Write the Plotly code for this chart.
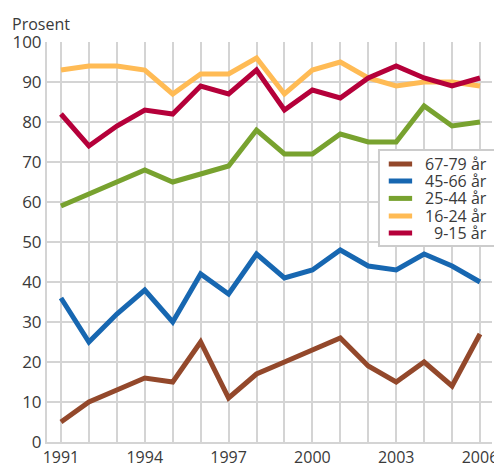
import plotly.graph_objects as go

years = list(range(1991, 2007))
labels = ["67-79 år", "45-66 år", "25-44 år", "16-24 år", "9-15 år"]
s_67_79 = [5, 10, 13, 16, 15, 25, 11, 17, 20, 23, 26, 19, 15, 20, 14, 27]
s_45_66 = [36, 25, 32, 38, 30, 42, 37, 47, 41, 43, 48, 44, 43, 47, 44, 40]
s_25_44 = [59, 62, 65, 68, 65, 67, 69, 78, 72, 72, 77, 75, 75, 84, 79, 80]
s_16_24 = [93, 94, 94, 93, 87, 92, 92, 96, 87, 93, 95, 91, 89, 90, 90, 89]
s_9_15 = [82, 74, 79, 83, 82, 89, 87, 93, 83, 88, 86, 91, 94, 91, 89, 91]
colors = ["#93482b", "#1767b1", "#78a22f", "#ffbb55", "#b5003a"]
series = [s_67_79, s_45_66, s_25_44, s_16_24, s_9_15]

xlabels = [str(y) if (y - 1991) % 3 == 0 else "" for y in years]

FONT = "Open Sans, Noto Sans, sans-serif"
TXT = "#3a3a3a"
GRID = "#d4d4d4"

fig = go.Figure()
for name, vals, c in zip(labels, series, colors):
    fig.add_trace(go.Scatter(x=years, y=vals, mode="lines", name=name,
                             line=dict(color=c, width=5), showlegend=False))

# Legend box (drawn in paper coordinates)
shapes = [dict(type="rect", xref="paper", yref="paper",
               x0=0.746, x1=1.0135, y0=0.49, y1=0.73,
               fillcolor="white", line=dict(color="#cccccc", width=2),
               layer="above")]
annotations = []
row_y = [0.695, 0.6525, 0.609, 0.565, 0.5225]
for name, c, ry in zip(labels, colors, row_y):
    shapes.append(dict(type="line", xref="paper", yref="paper",
                       x0=0.768, x1=0.8205, y0=ry, y1=ry,
                       line=dict(color=c, width=5), layer="above"))
    annotations.append(dict(text=name, xref="paper", yref="paper",
                            x=0.993, y=ry, xanchor="right", yanchor="middle",
                            showarrow=False,
                            font=dict(family=FONT, size=16, color=TXT)))

annotations.append(dict(text="Prosent", xref="paper", yref="paper",
                        x=-0.083, y=1.013, xanchor="left", yanchor="bottom",
                        showarrow=False,
                        font=dict(family=FONT, size=16, color=TXT)))

fig.update_layout(
    width=494, height=459,
    margin=dict(l=39, r=10, t=34, b=25, autoexpand=False),
    paper_bgcolor="white", plot_bgcolor="white",
    font=dict(family=FONT, size=17, color=TXT),
    showlegend=False,
    xaxis=dict(range=[1990.5, 2006.43], tickvals=years, ticktext=xlabels,
               showgrid=True, gridcolor=GRID, gridwidth=2,
               showline=True, linecolor=GRID, linewidth=2,
               ticks="", zeroline=False, automargin=False,
               tickfont=dict(family=FONT, size=16, color=TXT)),
    yaxis=dict(range=[0, 100], dtick=10, showgrid=True,
               gridcolor=GRID, gridwidth=2,
               showline=True, linecolor=GRID, linewidth=2,
               ticks="", zeroline=False, automargin=False,
               tickfont=dict(family=FONT, size=17, color=TXT)),
    shapes=shapes,
    annotations=annotations,
)
fig.write_html("out.html")
